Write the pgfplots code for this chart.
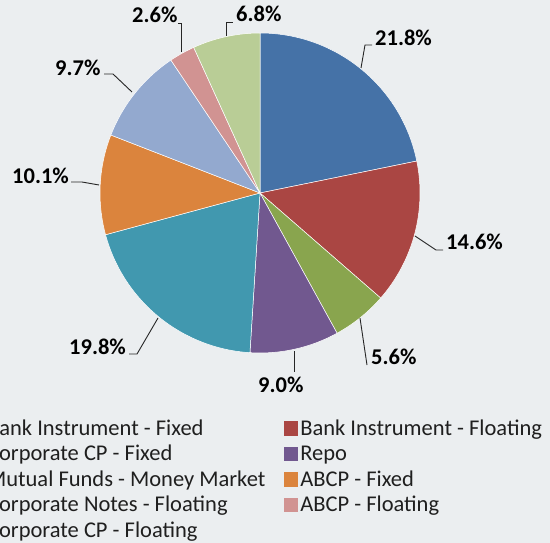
\documentclass[border=0pt]{standalone}
\usepackage{pgfplots}
\pgfplotsset{compat=1.18}
\usepackage{fontspec}
\setmainfont{Carlito}
\definecolor{bg}{RGB}{235,238,240}
\definecolor{cA}{RGB}{69,114,167}
\definecolor{cB}{RGB}{170,70,67}
\definecolor{cC}{RGB}{137,165,78}
\definecolor{cD}{RGB}{113,88,143}
\definecolor{cE}{RGB}{65,152,175}
\definecolor{cF}{RGB}{219,132,61}
\definecolor{cG}{RGB}{147,169,207}
\definecolor{cH}{RGB}{209,147,146}
\definecolor{cI}{RGB}{185,205,150}
\begin{document}
\begin{tikzpicture}
\path[use as bounding box] (0,0) rectangle (550pt,543pt);
\clip (0,0) rectangle (550pt,543pt);
\fill[bg] (0,0) rectangle (550pt,543pt);
\begin{axis}[
  at={(0,0)}, anchor=south west,
  scale only axis, width=550pt, height=543pt,
  xmin=0, xmax=550, ymin=0, ymax=543, y dir=reverse,
  hide axis, clip=false,
  legend columns=2,
  legend cell align=left,
  legend style={at={(axis cs:-29.5,417)}, anchor=north west, draw=none, fill=none,
     inner xsep=0pt, inner ysep=0pt,
     font=\fontsize{22.5}{27}\selectfont, text=black!88,
     nodes={inner xsep=2.5pt, inner ysep=2pt, text height=16pt, text depth=5.5pt},
     /tikz/every even column/.append style={column sep=16pt}},
  legend image code/.code={\fill[#1] (0pt,-4.75pt) rectangle (13.5pt,8.75pt);},
]
\def\cum{0}
\foreach \v/\col in {21.8/cA,14.6/cB,5.6/cC,9.0/cD,19.8/cE,10.1/cF,9.7/cG,2.6/cH,6.8/cI}{
  \pgfmathsetmacro{\aA}{90-3.6*\cum}
  \pgfmathsetmacro{\aB}{90-3.6*(\cum+\v)}
  \edef\doslice{\noexpand\fill[\col,draw=white,line width=0.5pt] (axis cs:260,193) -- ++(\aA:160pt) arc[start angle=\aA, end angle=\aB, radius=160pt] -- cycle;}
  \doslice
  \pgfmathsetmacro{\newcum}{\cum+\v}
  \global\let\cum\newcum
}
\addlegendimage{cA}\addlegendentry{Bank Instrument - Fixed}
\addlegendimage{cB}\addlegendentry{Bank Instrument - Floating}
\addlegendimage{cC}\addlegendentry{Corporate CP - Fixed}
\addlegendimage{cD}\addlegendentry{Repo}
\addlegendimage{cE}\addlegendentry{Mutual Funds - Money Market}
\addlegendimage{cF}\addlegendentry{ABCP - Fixed}
\addlegendimage{cG}\addlegendentry{Corporate Notes - Floating}
\addlegendimage{cH}\addlegendentry{ABCP - Floating}
\addlegendimage{cI}\addlegendentry{Corporate CP - Floating}
% leader lines
\begin{scope}[black!85, line width=0.9pt]
\draw (axis cs:361,68) -- (axis cs:365,45) -- (axis cs:372,45);
\draw (axis cs:415,236) -- (axis cs:436,250) -- (axis cs:443,250);
\draw (axis cs:360,318) -- (axis cs:367,365);
\draw (axis cs:294,351) -- (axis cs:294,372);
\draw (axis cs:158,318) -- (axis cs:137,354) -- (axis cs:129,354);
\draw (axis cs:99,185) -- (axis cs:82,182) -- (axis cs:71,182);
\draw (axis cs:132,92) -- (axis cs:113,74) -- (axis cs:104,74);
\draw (axis cs:181,52) -- (axis cs:181,23) -- (axis cs:178,23);
\draw (axis cs:226,36) -- (axis cs:226,22) -- (axis cs:233,22);
\end{scope}
\begin{scope}[every node/.style={anchor=base west, inner sep=0pt, font=\bfseries\fontsize{22.5}{27}\selectfont, text=black}]
\node at (axis cs:375,46) {21.8\%};
\node at (axis cs:446,250) {14.6\%};
\node at (axis cs:371,364) {5.6\%};
\node at (axis cs:258,392) {9.0\%};
\node at (axis cs:69,354) {19.8\%};
\node at (axis cs:12,183) {10.1\%};
\node at (axis cs:55,76) {9.7\%};
\node at (axis cs:132,23) {2.6\%};
\node at (axis cs:236,22) {6.8\%};
\end{scope}
\end{axis}
\end{tikzpicture}
\end{document}
